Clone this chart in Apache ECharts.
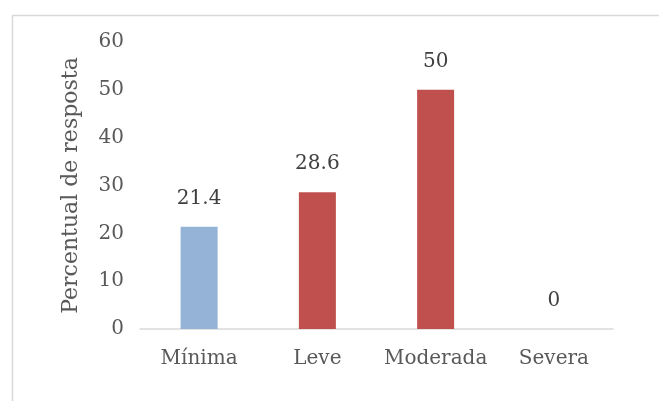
<!DOCTYPE html>
<html>
<head>
<meta charset="utf-8">
<script src="https://cdn.jsdelivr.net/npm/echarts@6/dist/echarts.min.js"></script>
<style>html,body{margin:0;padding:0;background:#fff;}#c{width:659px;height:401px;}</style>
</head>
<body>
<div id="c"></div>
<script>
const categories = ['Mínima', 'Leve', 'Moderada', 'Severa'];
const values = [21.4, 28.6, 50, 0];
const barColors = ['#95B3D7', '#C0504D', '#C0504D', '#C0504D'];
const yAxisName = 'Percentual de resposta';

const chart = echarts.init(document.getElementById('c'), null, {renderer: 'canvas'});
const font = '"DejaVu Serif", serif';
chart.setOption({
  animation: false,
  backgroundColor: '#fff',
  graphic: [{
    type: 'rect', left: 10, top: 13, shape: {x: 0, y: 0, width: 700, height: 420},
    style: {fill: 'none', stroke: '#D9D9D9', lineWidth: 1.5}, silent: true, z: -1
  }],
  grid: {left: 140, right: 46, top: 42, bottom: 72},
  xAxis: {
    type: 'category', data: categories,
    axisLine: {lineStyle: {color: '#D9D9D9', width: 1.5}},
    axisTick: {show: false},
    axisLabel: {interval: 0, color: '#595959', fontFamily: font, fontSize: 20, margin: 20}
  },
  yAxis: {
    type: 'value', min: 0, max: 60, interval: 10,
    name: yAxisName, nameLocation: 'middle', nameGap: 58,
    nameTextStyle: {color: '#595959', fontFamily: font, fontSize: 22},
    axisLine: {show: false}, axisTick: {show: false},
    splitLine: {show: false},
    axisLabel: {color: '#595959', fontFamily: font, fontSize: 20, margin: 16}
  },
  series: [{
    type: 'bar',
    data: values.map((v, i) => ({value: v, itemStyle: {color: barColors[i]}})),
    barWidth: 37,
    label: {show: true, position: 'top', distance: 18, color: '#404040', fontFamily: font, fontSize: 20}
  }]
});
</script>
</body>
</html>
